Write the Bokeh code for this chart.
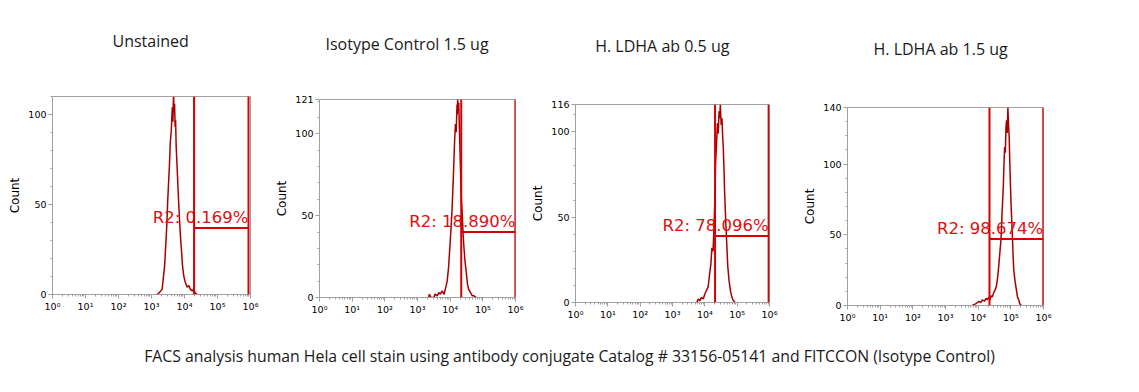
from bokeh.plotting import figure
from bokeh.models import Range1d, FixedTicker, Span, Spacer
from bokeh.layouts import row, column
from bokeh.embed import file_html
from bokeh.resources import INLINE
from bokeh.core.properties import value

# ---------------- data ----------------
panel_titles = ["Unstained", "Isotype Control 1.5 ug", "H. LDHA ab 0.5 ug", "H. LDHA ab 1.5 ug"]
caption = ("FACS analysis human Hela cell stain using antibody conjugate "
           "Catalog # 33156-05141 and FITCCON (Isotype Control)")
y_axis_label = "Count"

x_ticks = [1, 10, 100, 1000, 10000, 100000, 1000000]
x_tick_labels = ["10\u2070", "10\u00b9", "10\u00b2", "10\u00b3", "10\u2074", "10\u2075", "10\u2076"]

# histogram outlines: fluorescence intensity vs count
unst_x = [1480, 1700, 1900, 2100, 2340, 2500, 2750, 2900, 3100, 3310,
          3500, 3700, 3980, 4150, 4270, 4450, 4600, 4680, 4800, 5000,
          5200, 5370, 5600, 6030, 6400, 7080, 7500, 8130, 8700, 9550,
          10500, 12000, 13500, 15000, 17000, 19000, 21000, 24000]
unst_y = [0, 1, 2, 3, 11, 16, 30, 38, 52, 63,
          72, 84, 91, 99, 104, 96, 108, 110, 101, 106,
          93, 97, 82, 69, 58, 41, 33, 24, 16, 10,
          7, 4, 5, 3, 2, 3, 1, 0]

iso_x = [2200, 2300, 2600, 3200, 3400, 4000, 4500, 5000, 5600, 6500,
         7300, 8100, 8900, 9800, 10600, 11500, 12200, 12900, 13700, 14500,
         15300, 16200, 16600, 17000, 17600, 18300, 19000, 20400, 21800, 23400,
         25000, 26300, 28500, 31600, 34000, 37000, 42000, 48000, 54000, 63000]
iso_y = [0, 2, 0, 0, 2, 1, 3, 2, 4, 2,
         6, 10, 18, 31, 42, 55, 68, 81, 96, 106,
         101, 118, 112, 121, 115, 119, 106, 83, 62, 51,
         38, 31, 22, 14, 8, 5, 3, 1, 1, 0]

ld05_x = [5600, 6300, 7000, 7900, 8900, 10000, 11200, 12600, 14100, 15300,
          16600, 18000, 19500, 20500, 21400, 22900, 24500, 26000, 27500, 28800,
          30200, 32000, 33900, 35500, 37200, 39000, 40700, 43000, 45700, 48500,
          51300, 56000, 61700, 67000, 72400, 78000, 85000]
ld05_y = [0, 2, 1, 3, 2, 5, 7, 9, 17, 22,
          32, 30, 48, 62, 81, 92, 105, 99, 112, 108,
          116, 104, 108, 98, 91, 79, 66, 54, 42, 31,
          21, 13, 7, 4, 2, 1, 0]

ld15_x = [6600, 8000, 9500, 10500, 12000, 13500, 15500, 17500, 19000, 21000,
          23000, 25000, 27000, 30000, 33000, 36300, 39500, 42700, 46000, 50100,
          54000, 58900, 61500, 64600, 68000, 71000, 74100, 77500, 81300, 85000,
          89100, 93000, 97700, 103000, 109600, 116000, 123000, 135000, 148000, 160000,
          174000, 190000, 209000]
ld15_y = [0, 1, 2, 3, 2, 4, 3, 5, 4, 6,
          4, 7, 6, 9, 11, 14, 20, 28, 37, 47,
          66, 84, 99, 112, 108, 126, 131, 122, 140, 128,
          119, 101, 84, 68, 54, 38, 25, 17, 11, 6,
          4, 1, 0]

hist_x = [unst_x, iso_x, ld05_x, ld15_x]
hist_y = [unst_y, iso_y, ld05_y, ld15_y]

# R2 gate per panel
gate_lo = [19500, 21800, 20700, 22200]
gate_hi = [870000, 990000, 940000, 985000]
gate_level = [37, 40, 39, 47]
gate_labels = ["R2: 0.169%", "R2: 18.890%", "R2: 78.096%", "R2: 98.674%"]

y_max = [110, 121, 116, 140]
y_ticks = [[0, 50, 100], [0, 50, 100, 121], [0, 50, 100, 116], [0, 50, 100, 140]]

# ---------------- layout / style ----------------
# (left border, frame width, right border)
hgeom = [(52, 198, 15), (54, 196, 13), (44, 197, 31), (47, 196, 80)]
title_center = [40, 43, 45, 48]      # page y of each panel title
frame_top = [96, 99, 104, 107]       # page y of each plot frame top
title_dx = [60, 6, 20, 26]           # title start, px from frame left
TITLE_H = 28
TOPB, FRAME_H, BOTTOM = 6, 198, 32

HIST = "#a80000"
GATE = "#d80000"
LABEL = "#e01010"
AXIS = "#a0a0a0"
FONT_UI = "Open Sans"

minor_x = [m * 10 ** d for d in range(6) for m in range(2, 10)]

cols = []
for i in range(4):
    lb, fw, rb = hgeom[i]
    W = lb + fw + rb

    # ---- title strip ----
    t = figure(width=W, height=TITLE_H, x_range=Range1d(0, fw), y_range=Range1d(0, 1),
               toolbar_location=None, output_backend="svg",
               min_border_left=lb, min_border_right=rb, min_border_top=0, min_border_bottom=0)
    t.axis.visible = False
    t.grid.visible = False
    t.outline_line_color = None
    t.text(x=[title_dx[i]], y=[0.5], text=[panel_titles[i]],
           text_align="left", text_baseline="middle",
           text_font=value(FONT_UI), text_font_size="16px", text_color="#1a1a1a")

    # ---- histogram plot ----
    p = figure(width=W, height=TOPB + FRAME_H + BOTTOM,
               x_axis_type="log",
               x_range=Range1d(1, 1e6), y_range=Range1d(0, y_max[i]),
               toolbar_location=None, output_backend="svg",
               min_border_left=lb, min_border_right=rb,
               min_border_top=TOPB, min_border_bottom=BOTTOM)
    p.grid.visible = False
    p.outline_line_color = AXIS
    p.outline_line_width = 1

    p.line(hist_x[i], hist_y[i], line_color=HIST, line_width=1.5)

    for gx in (gate_lo[i], gate_hi[i]):
        p.add_layout(Span(location=gx, dimension="height",
                          line_color=GATE, line_width=2))
    p.segment(x0=[gate_lo[i]], y0=[gate_level[i]], x1=[gate_hi[i]], y1=[gate_level[i]],
              line_color=GATE, line_width=2)
    p.text(x=[gate_hi[i]], y=[gate_level[i]], text=[gate_labels[i]],
           text_align="right", text_baseline="bottom", y_offset=-1,
           text_font=value("DejaVu Sans"), text_font_size="16.5px", text_color=LABEL)

    p.xaxis.ticker = FixedTicker(ticks=x_ticks, minor_ticks=minor_x)
    p.xaxis.major_label_overrides = {tk: lab for tk, lab in zip(x_ticks, x_tick_labels)}
    p.yaxis.ticker = FixedTicker(ticks=y_ticks[i], minor_ticks=list(range(0, y_max[i] + 1, 10)))
    p.yaxis.axis_label = y_axis_label
    for ax in (p.xaxis[0], p.yaxis[0]):
        ax.axis_line_color = AXIS
        ax.major_tick_line_color = AXIS
        ax.minor_tick_line_color = AXIS
        ax.major_tick_in = 0
        ax.major_tick_out = 4
        ax.minor_tick_in = 0
        ax.minor_tick_out = 2
        ax.major_label_text_font = "DejaVu Sans"
        ax.major_label_text_font_size = "9.5px"
        ax.major_label_text_color = "black"
        ax.major_label_standoff = 2
    p.yaxis.axis_label_text_font = "DejaVu Sans"
    p.yaxis.axis_label_text_font_size = "12px"
    p.yaxis.axis_label_text_font_style = "normal"
    p.yaxis.axis_label_text_color = "black"
    p.yaxis.axis_label_standoff = 3

    gap1 = title_center[i] - TITLE_H // 2
    gap2 = frame_top[i] - (title_center[i] + TITLE_H // 2) - TOPB
    cols.append(column(Spacer(width=W, height=gap1), t,
                       Spacer(width=W, height=gap2), p, spacing=0))

cap = figure(width=1138, height=36, x_range=Range1d(0, 1), y_range=Range1d(0, 1),
             toolbar_location=None, output_backend="svg", min_border=0)
cap.axis.visible = False
cap.grid.visible = False
cap.outline_line_color = None
cap.text(x=[0.5], y=[0.5], text=[caption], text_align="center", text_baseline="middle",
         text_font=value(FONT_UI), text_font_size="15.8px", text_color="#1a1a1a")

layout = column(row(*cols, spacing=0), cap, spacing=0)
open("out.html", "w").write(file_html(layout, INLINE))
